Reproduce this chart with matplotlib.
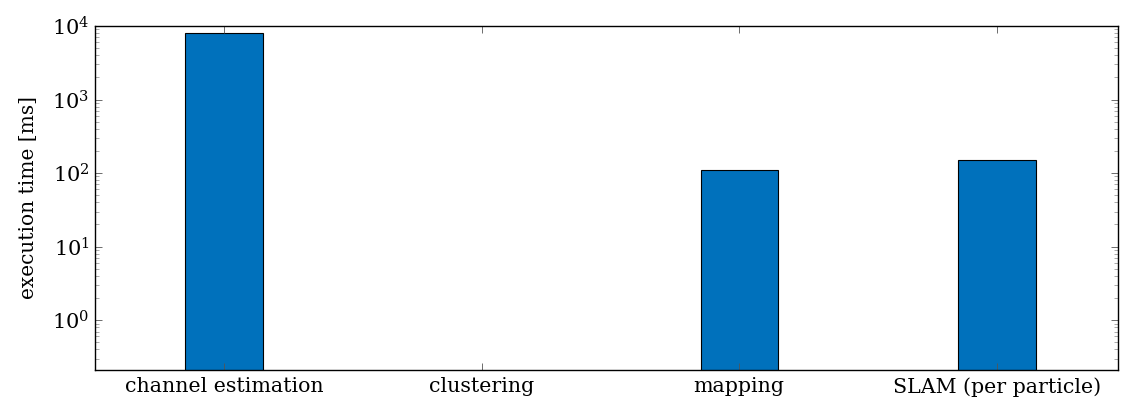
import numpy as np
import matplotlib.pyplot as plt
from matplotlib.ticker import LogLocator, NullFormatter, FixedLocator

categories = ['channel estimation', 'clustering', 'mapping', 'SLAM (per particle)']
exec_time_ms = [8000, 0.1, 110, 150]
ytick_vals = [1, 10, 100, 1000, 10000]
ytick_labels = [r'$10^{0}$', r'$10^{1}$', r'$10^{2}$', r'$10^{3}$', r'$10^{4}$']

plt.rcParams['font.family'] = ['DejaVu Serif']
plt.rcParams['mathtext.fontset'] = 'dejavuserif'

fig = plt.figure(figsize=(11.22, 4.01), dpi=100)
ax = fig.add_axes([0.0847, 0.0773, 0.9117, 0.8579])

x = np.arange(len(categories))
ax.bar(x, exec_time_ms, width=0.3, color='#0071BC', edgecolor='black', linewidth=0.8)

ax.set_yscale('log')
ax.set_ylim(0.21, 1e4)
ax.set_xlim(-0.5, 3.47)
ax.set_xticks(x)
ax.set_xticklabels(categories, fontsize=14.8)
ax.yaxis.set_major_locator(FixedLocator(ytick_vals))
ax.set_yticklabels(ytick_labels, fontsize=15)
ax.yaxis.set_minor_locator(LogLocator(base=10, subs=np.arange(2, 10), numticks=20))
ax.yaxis.set_minor_formatter(NullFormatter())
ax.set_ylabel('execution time [ms]', fontsize=14.5)
ax.yaxis.set_label_coords(-0.056, 0.5)

ax.tick_params(which='major', direction='in', length=5, width=0.6, color='#555555',
               top=True, right=True)
ax.tick_params(which='minor', direction='in', length=3, width=0.5, color='#888888',
               right=True)
ax.tick_params(axis='x', which='both', bottom=True, top=True, pad=5)
ax.tick_params(axis='y', which='major', pad=4)
for s in ax.spines.values():
    s.set_linewidth(1.0)

fig.savefig('out.png', dpi=100)
